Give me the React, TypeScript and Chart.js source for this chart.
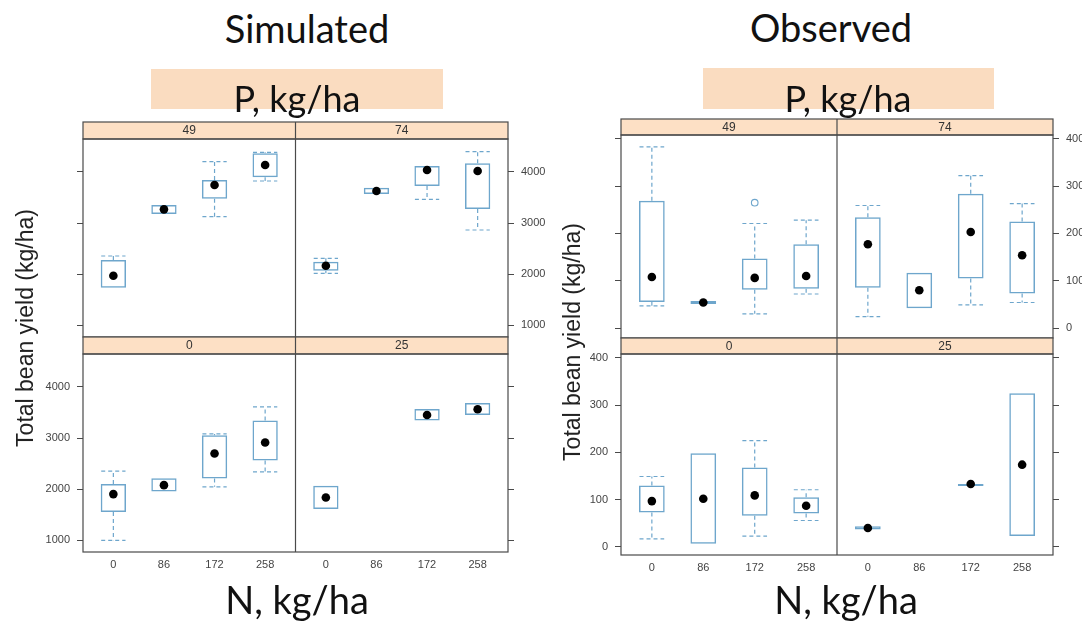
import React, { useEffect, useRef } from "react";
import { Chart, registerables } from "chart.js";

Chart.register(...registerables);

// ---------------- data ----------------
const N_LABELS = ["0", "86", "172", "258"]; // N, kg/ha
// lattice positions of the 8 boxes per row (left strip panel: 4 N levels, right strip panel: 4 N levels)
const X_POS = [0.6, 1.6, 2.6, 3.6, 4.8, 5.8, 6.8, 7.8];
const SIM_TICKS = [1000, 2000, 3000, 4000];
const OBS_TICKS = [0, 100, 200, 300, 400];

// Simulated — top row: P = 49 | P = 74
const SIM_TOP_P = ["49", "74"];
const simTopLo = [1731, 3176, 3124, 3824, 2013, 3569, 3464, 2863];
const simTopQ1 = [1731, 3176, 3477, 3896, 2065, 3569, 3725, 3275];
const simTopMed = [1966, 3268, 3745, 4137, 2163, 3627, 4039, 4020];
const simTopQ3 = [2275, 3353, 3843, 4366, 2242, 3693, 4118, 4170];
const simTopHi = [2353, 3353, 4203, 4386, 2307, 3693, 4118, 4400];

// Simulated — bottom row: P = 0 | P = 25
const SIM_BOT_P = ["0", "25"];
const simBotLo = [994, 1952, 2043, 2337, 1607, null, 3341, 3452];
const simBotQ1 = [1548, 1952, 2207, 2559, 1607, null, 3341, 3452];
const simBotMed = [1900, 2076, 2696, 2911, 1835, null, 3452, 3563];
const simBotQ3 = [2096, 2213, 3054, 3341, 2063, null, 3570, 3687];
const simBotHi = [2350, 2213, 3080, 3609, 2063, null, 3570, 3687];

// Observed — top row: P = 49 | P = 74
const OBS_TOP_P = ["49", "74"];
const obsTopLo = [47, 51, 30, 72, 24, 42, 49, 54];
const obsTopQ1 = [55, 51, 81, 83, 85, 42, 105, 73];
const obsTopMed = [108, 54, 106, 110, 177, 80, 203, 154];
const obsTopQ3 = [269, 57, 147, 177, 234, 117, 284, 225];
const obsTopHi = [383, 57, 221, 228, 259, 117, 322, 263];
const obsTopOut = [null, null, 265, null, null, null, null, null];

// Observed — bottom row: P = 0 | P = 25
const OBS_BOT_P = ["0", "25"];
const obsBotLo = [17, 7, 23, 56, 37, null, 133, 23];
const obsBotQ1 = [73, 7, 66, 71, 37, null, 133, 23];
const obsBotMed = [97, 102, 109, 87, 40, null, 133, 174];
const obsBotQ3 = [130, 198, 168, 105, 44, null, 133, 325];
const obsBotHi = [149, 198, 225, 121, 44, null, 133, 325];

// ---------------- styles ----------------
const X_MAX = 8.4;
const PANEL_SPLIT = 4.2;
const CAP = 0.24;
const BOX = "#6ea6cc";
const FRAME = "#4a4a4a";
const STRIP_FILL = "#fde0c5";
const TICK_FONT = { family: '"Liberation Sans", Arial, sans-serif', size: 11 };

type Arr = (number | null)[];

const latticePlugin = {
  id: "lattice",
  afterDraw(chart: any, _args: any, opts: any) {
    const { ctx, chartArea: a } = chart;
    const mid = chart.scales.x.getPixelForValue(PANEL_SPLIT);
    const h = opts.stripH;
    ctx.save();
    ctx.fillStyle = STRIP_FILL;
    ctx.fillRect(a.left, a.top - h, a.right - a.left, h);
    ctx.strokeStyle = FRAME;
    ctx.lineWidth = 1.2;
    ctx.strokeRect(a.left, a.top - h, a.right - a.left, h);
    ctx.strokeRect(a.left, a.top, a.right - a.left, a.bottom - a.top);
    ctx.beginPath();
    ctx.moveTo(mid, a.top - h);
    ctx.lineTo(mid, a.bottom);
    ctx.stroke();
    ctx.fillStyle = "#333";
    ctx.font = '12px "Liberation Sans", Arial, sans-serif';
    ctx.textAlign = "center";
    ctx.textBaseline = "middle";
    ctx.fillText(opts.strips[0], (a.left + mid) / 2, a.top - h / 2 + 0.5);
    ctx.fillText(opts.strips[1], (mid + a.right) / 2, a.top - h / 2 + 0.5);
    ctx.restore();
  },
};

type RowProps = {
  left: number; top: number; width: number; height: number;
  padTop: number; padBottom: number; leftW: number; rightW: number;
  stripH: number; strips: string[];
  yMin: number; yMax: number; yTicks: number[];
  labelsLeft: boolean; showX: boolean;
  lo: Arr; q1: Arr; med: Arr; q3: Arr; hi: Arr; out?: Arr;
};

function yAxis(p: RowProps, position: "left" | "right", labels: boolean, w: number) {
  return {
    type: "linear",
    position,
    min: p.yMin,
    max: p.yMax,
    beginAtZero: false,
    grid: { display: true, drawOnChartArea: false, drawTicks: true, tickLength: 6, color: FRAME, lineWidth: 1 },
    border: { display: false },
    ticks: {
      display: labels,
      padding: 7,
      color: "#444",
      font: TICK_FONT,
      callback: (v: number) => String(v),
    },
    afterBuildTicks: (axis: any) => {
      axis.ticks = p.yTicks.map((v) => ({ value: v }));
    },
    afterFit: (s: any) => {
      s.width = w;
    },
  };
}

function LatticeRow(p: RowProps) {
  const ref = useRef<HTMLCanvasElement | null>(null);
  useEffect(() => {
    if (!ref.current) return;
    const idx = X_POS.map((_, i) => i).filter((i) => p.q1[i] != null);
    const boxes = idx.map((i) => ({ x: X_POS[i], y: [p.q1[i], p.q3[i]] }));
    const medians = idx.map((i) => ({ x: X_POS[i], y: p.med[i] }));
    const whiskers: any[] = [];
    idx.forEach((i) => {
      const x = X_POS[i];
      const hi = p.hi[i] as number, q3 = p.q3[i] as number, lo = p.lo[i] as number, q1 = p.q1[i] as number;
      if (hi > q3) {
        whiskers.push({ x, y: q3 }, { x, y: hi }, { x, y: null });
        whiskers.push({ x: x - CAP, y: hi }, { x: x + CAP, y: hi }, { x, y: null });
      }
      if (lo < q1) {
        whiskers.push({ x, y: q1 }, { x, y: lo }, { x, y: null });
        whiskers.push({ x: x - CAP, y: lo }, { x: x + CAP, y: lo }, { x, y: null });
      }
    });
    const outliers = (p.out || [])
      .map((v, i) => (v == null ? null : { x: X_POS[i], y: v }))
      .filter((d) => d != null);

    const chart = new Chart(ref.current, {
      type: "bar",
      data: {
        datasets: [
          { type: "scatter", data: medians, pointRadius: 4.3, pointBackgroundColor: "#000", pointBorderWidth: 0 },
          { type: "scatter", data: outliers, pointRadius: 3.3, pointBackgroundColor: "rgba(0,0,0,0)", pointBorderColor: BOX, pointBorderWidth: 1.1 },
          {
            type: "bar", data: boxes, backgroundColor: "rgba(0,0,0,0)", borderColor: BOX, borderWidth: 1.5,
            borderSkipped: false, barPercentage: 0.625, categoryPercentage: 0.8, minBarLength: 2,
          },
          {
            type: "line", data: whiskers, borderColor: BOX, borderWidth: 1.2, borderDash: [4, 3],
            pointRadius: 0, spanGaps: false, fill: false, tension: 0,
          },
        ],
      } as any,
      options: {
        responsive: false,
        animation: false,
        events: [],
        layout: { padding: { top: p.padTop, bottom: p.padBottom, left: 0, right: 0 } },
        plugins: {
          legend: { display: false },
          tooltip: { enabled: false },
          lattice: { strips: p.strips, stripH: p.stripH },
        } as any,
        scales: {
          x: {
            type: "linear",
            min: 0,
            max: X_MAX,
            offset: false,
            display: p.showX,
            grid: { display: false, drawTicks: false },
            border: { display: false },
            ticks: {
              padding: 6,
              color: "#444",
              font: TICK_FONT,
              maxRotation: 0,
              autoSkip: false,
              callback: (_v: number, i: number) => N_LABELS[i % 4],
            },
            afterBuildTicks: (axis: any) => {
              axis.ticks = X_POS.map((v) => ({ value: v }));
            },
            afterFit: (s: any) => {
              s.height = p.showX ? 24 : 0;
            },
          },
          y: yAxis(p, "left", p.labelsLeft, p.leftW),
          y2: yAxis(p, "right", !p.labelsLeft, p.rightW),
        } as any,
      },
      plugins: [latticePlugin as any],
    });
    return () => chart.destroy();
  }, []);
  return (
    <canvas
      ref={ref}
      width={p.width}
      height={p.height}
      style={{ position: "absolute", left: p.left, top: p.top, width: p.width, height: p.height }}
    />
  );
}

const titleFont = 'Lato, "Open Sans", sans-serif';

function Text(props: { cx: number; top: number; size: number; children: React.ReactNode }) {
  return (
    <div
      style={{
        position: "absolute",
        left: props.cx - 200,
        width: 400,
        top: props.top,
        textAlign: "center",
        fontFamily: titleFont,
        fontSize: props.size,
        lineHeight: `${props.size}px`,
        color: "#111",
        whiteSpace: "nowrap",
        zIndex: 2,
      }}
    >
      {props.children}
    </div>
  );
}

function YLabel(props: { cx: number; cy: number }) {
  return (
    <div
      style={{
        position: "absolute",
        left: props.cx - 160,
        top: props.cy - 14,
        width: 320,
        height: 28,
        lineHeight: "28px",
        textAlign: "center",
        fontFamily: '"Liberation Sans", Arial, sans-serif',
        fontSize: 23,
        color: "#222",
        transform: "rotate(-90deg)",
        transformOrigin: "50% 50%",
        whiteSpace: "nowrap",
        zIndex: 2,
      }}
    >
      Total bean yield (kg/ha)
    </div>
  );
}

export default function App() {
  return (
    <div style={{ position: "absolute", left: 0, top: 0, width: 1082, height: 621, background: "#fff", overflow: "hidden" }}>
      <div style={{ position: "absolute", left: 151, top: 69, width: 292, height: 40, background: "#fadcc0" }} />
      <div style={{ position: "absolute", left: 703, top: 68, width: 291, height: 41, background: "#fadcc0" }} />

      <LatticeRow
        left={33} top={119} width={525} height={234} padTop={20} padBottom={16} leftW={50} rightW={50}
        stripH={17} strips={SIM_TOP_P} yMin={765} yMax={4647} yTicks={SIM_TICKS} labelsLeft={false} showX={false}
        lo={simTopLo} q1={simTopQ1} med={simTopMed} q3={simTopQ3} hi={simTopHi}
      />
      <LatticeRow
        left={33} top={334} width={525} height={242} padTop={20} padBottom={0} leftW={50} rightW={50}
        stripH={17} strips={SIM_BOT_P} yMin={765} yMax={4647} yTicks={SIM_TICKS} labelsLeft={true} showX={true}
        lo={simBotLo} q1={simBotQ1} med={simBotMed} q3={simBotQ3} hi={simBotHi}
      />
      <LatticeRow
        left={571} top={115} width={511} height={239} padTop={20} padBottom={16} leftW={50} rightW={29}
        stripH={16} strips={OBS_TOP_P} yMin={-21} yMax={408} yTicks={OBS_TICKS} labelsLeft={false} showX={false}
        lo={obsTopLo} q1={obsTopQ1} med={obsTopMed} q3={obsTopQ3} hi={obsTopHi} out={obsTopOut}
      />
      <LatticeRow
        left={571} top={334} width={511} height={245} padTop={20} padBottom={0} leftW={50} rightW={29}
        stripH={16} strips={OBS_BOT_P} yMin={-17} yMax={408} yTicks={OBS_TICKS} labelsLeft={true} showX={true}
        lo={obsBotLo} q1={obsBotQ1} med={obsBotMed} q3={obsBotQ3} hi={obsBotHi}
      />

      <Text cx={307} top={9} size={38}>Simulated</Text>
      <Text cx={831} top={8} size={38}>Observed</Text>
      <Text cx={297} top={80} size={36}>P, kg/ha</Text>
      <Text cx={848} top={80} size={36}>P, kg/ha</Text>
      <Text cx={297} top={580} size={38}>N, kg/ha</Text>
      <Text cx={846} top={580} size={38}>N, kg/ha</Text>

      <YLabel cx={25} cy={328} />
      <YLabel cx={572} cy={342} />
    </div>
  );
}
